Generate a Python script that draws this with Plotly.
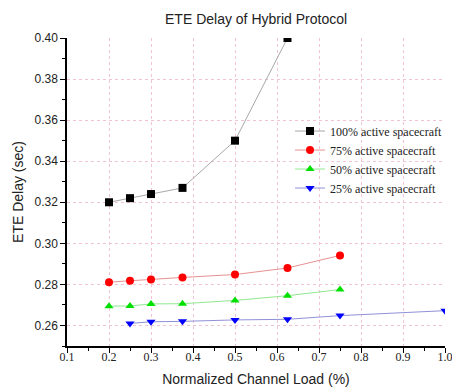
import plotly.graph_objects as go

x100 = [0.2, 0.25, 0.3, 0.375, 0.5, 0.625]
y100 = [0.320, 0.322, 0.324, 0.327, 0.350, 0.400]
x75 = [0.2, 0.25, 0.3, 0.375, 0.5, 0.625, 0.75]
y75 = [0.2811, 0.2818, 0.2824, 0.2834, 0.2848, 0.2880, 0.2941]
x50 = [0.2, 0.25, 0.3, 0.375, 0.5, 0.625, 0.75]
y50 = [0.2694, 0.2695, 0.2705, 0.2706, 0.2722, 0.2745, 0.2775]
x25 = [0.25, 0.3, 0.375, 0.5, 0.625, 0.75, 1.0]
y25 = [0.2610, 0.2618, 0.2620, 0.2627, 0.2630, 0.2648, 0.2672]

series = [
    ("100% active spacecraft", x100, y100, "#a8a8a8", "black", "square"),
    ("75% active spacecraft", x75, y75, "#e89090", "red", "circle"),
    ("50% active spacecraft", x50, y50, "#90e890", "#00e000", "triangle-up"),
    ("25% active spacecraft", x25, y25, "#9090d8", "blue", "triangle-down"),
]

fig = go.Figure()
for name, xs, ys, lc, mc, sym in series:
    fig.add_trace(go.Scatter(
        x=xs, y=ys, name=name, mode="lines+markers",
        line=dict(color=lc, width=1),
        marker=dict(color=mc, symbol=sym, size=8),
    ))

fig.update_layout(
    width=452, height=390,
    margin=dict(l=67, r=7, t=38, b=44, autoexpand=False),
    paper_bgcolor="white", plot_bgcolor="white",
    title=dict(text="ETE Delay of Hybrid Protocol", x=0.5665, xanchor="center",
               y=0.952, yanchor="middle", automargin=False,
               font=dict(family="Liberation Sans, Arial", size=14, color="#222")),
    showlegend=True,
    legend=dict(x=0.59, y=0.745, xanchor="left", yanchor="top",
                bgcolor="rgba(255,255,255,0)", tracegroupgap=0,
                font=dict(family="Liberation Serif, Times New Roman", size=12, color="#222")),
    font=dict(family="Liberation Sans, Arial", color="#222"),
)
fig.update_xaxes(
    range=[0.1, 1.0], tick0=0.1, dtick=0.1, tickformat=".1f",
    showline=True, linecolor="black", linewidth=1.5,
    ticks="outside", ticklen=5, tickcolor="black",
    minor=dict(dtick=0.05, ticks="outside", ticklen=3, tickcolor="black", showgrid=False),
    showgrid=True, gridcolor="#f0c4d4", griddash="dot", gridwidth=1,
    zeroline=False, ticklabelstandoff=-6, automargin=False,
    ticklabeloverflow="allow",
    tickfont=dict(family="Liberation Serif, Times New Roman", size=12, color="#222"),
    title=dict(text="Normalized Channel Load (%)", font=dict(size=14), standoff=11),
)
fig.update_yaxes(
    range=[0.25, 0.40], tick0=0.26, dtick=0.02, tickformat=".2f",
    showline=True, linecolor="black", linewidth=1.5,
    ticks="outside", ticklen=5, tickcolor="black",
    minor=dict(dtick=0.01, ticks="outside", ticklen=3, tickcolor="black", showgrid=False),
    showgrid=True, gridcolor="#f0c4d4", griddash="dot", gridwidth=1,
    zeroline=False, automargin=False,
    tickfont=dict(size=12, color="#222"),
    title=dict(text="ETE Delay (sec)", font=dict(size=14), standoff=8),
)

fig.write_html("out.html", config={"displayModeBar": False},
               post_script="document.body.style.margin='0';")
